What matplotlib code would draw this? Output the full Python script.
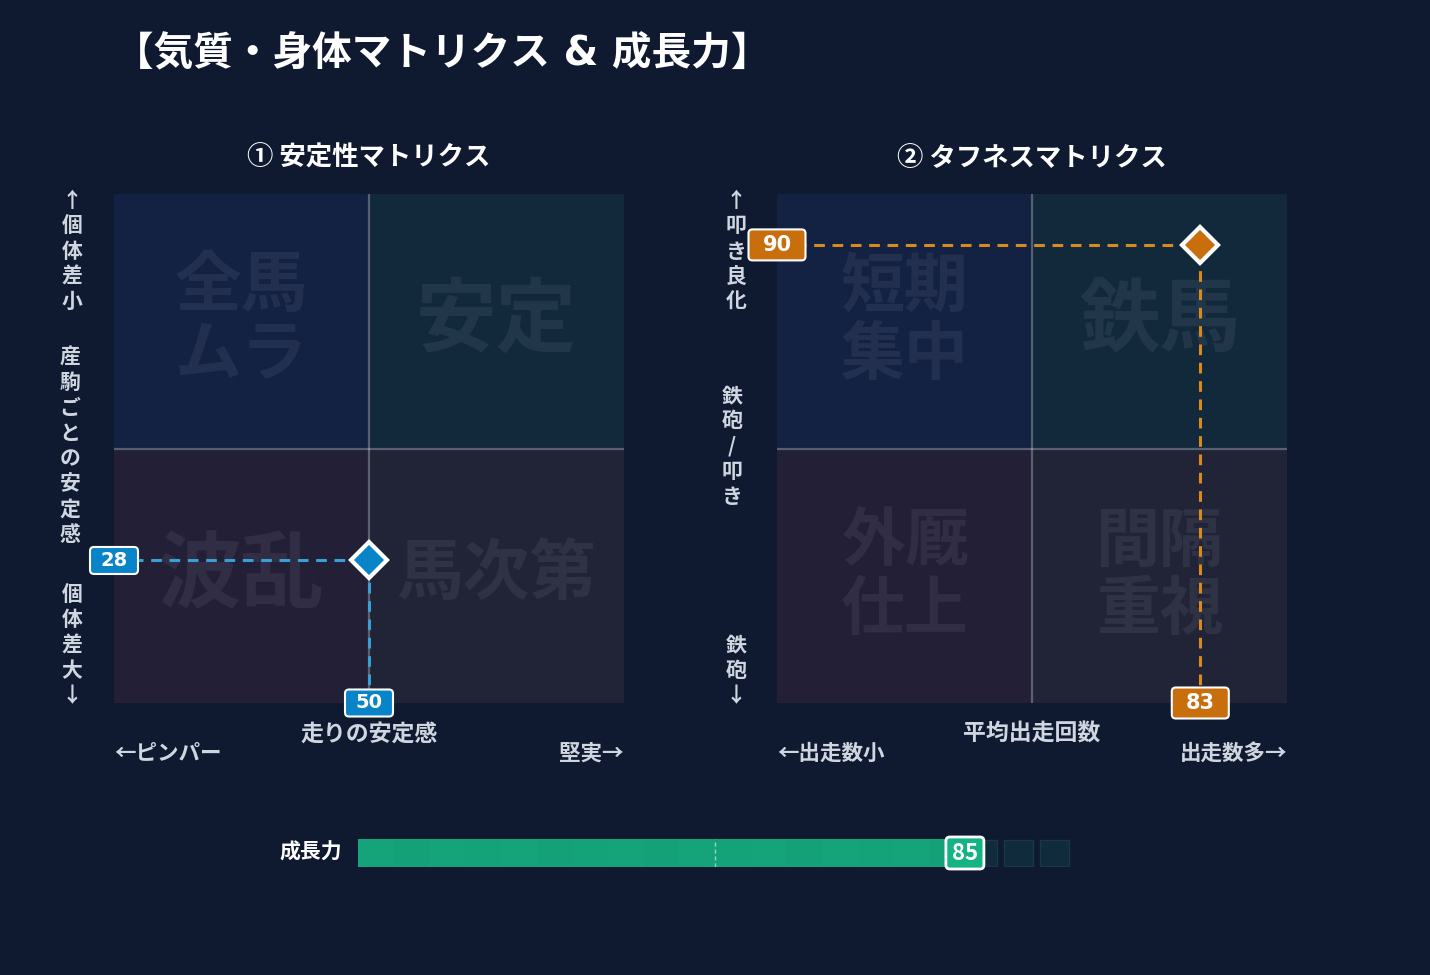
import numpy as np
import matplotlib
matplotlib.use("Agg")
import matplotlib.pyplot as plt
from matplotlib.patches import Rectangle, FancyBboxPatch
from matplotlib.transforms import IdentityTransform

plt.rcParams['font.family'] = ['Noto Sans CJK JP', 'DejaVu Sans']

# --- data ---
title = "【気質・身体マトリクス & 成長力】"
panel_titles = ["① 安定性マトリクス", "② タフネスマトリクス"]

# quadrant labels: top-left, top-right, bottom-left, bottom-right
stab_quads = ["全馬\nムラ", "安定", "波乱", "馬次第"]
tough_quads = ["短期\n集中", "鉄馬", "外厩\n仕上", "間隔\n重視"]

stab_x, stab_y = 50, 28
tough_x, tough_y = 83, 90
growth = 85

stab_xlabel = "走りの安定感"
stab_xends = ["←ピンパー", "堅実→"]
stab_ylabels = ["↑個体差小", "産駒ごとの安定感", "個体差大↓"]
tough_xlabel = "平均出走回数"
tough_xends = ["←出走数小", "出走数多→"]
tough_ylabels = ["↑叩き良化", "鉄砲/叩き", "鉄砲↓"]
growth_label = "成長力"

# --- style ---
BG = "#0f1a31"
QUAD_COLORS = ["#132142", "#12283b", "#221f37", "#212437"]
TXT = "#cfd6e0"
BLUE = "#0a84c8"
BLUE_LINE = "#3a9fd6"
ORANGE = "#c96e0c"
ORANGE_LINE = "#d98a1e"
GREEN = "#15a47a"
GREEN_LBL = "#13b383"

W, H = 1430, 975
fig = plt.figure(figsize=(W / 100, H / 100), dpi=100, facecolor=BG)


def px_axes(x0, y0, x1, y1):
    return fig.add_axes([x0 / W, 1 - y1 / H, (x1 - x0) / W, (y1 - y0) / H])


def fig_text(x, y, s, **kw):
    fig.text(x / W, 1 - y / H, s, **kw)


def value_tag(ax, x, y, s, color, w, h, fs, weight="bold", family="DejaVu Sans", lw=1.5):
    # fixed pixel-size rounded tag centred on a data point
    cx, cy = ax.transData.transform((x, y))
    fig.add_artist(FancyBboxPatch((cx - w / 2, cy - h / 2), w, h,
                                  boxstyle="round,pad=0,rounding_size=4",
                                  fc=color, ec="white", lw=lw,
                                  transform=IdentityTransform(), zorder=6))
    fig.text(cx / W, cy / H, s, ha="center", va="center", fontsize=fs, fontweight=weight,
             family=family, color="white", zorder=7)


def matrix(ax, quads, px, py, mcol, lcol, sizes, tag_wh, tag_fs):
    ax.set_xlim(0, 100)
    ax.set_ylim(0, 100)
    ax.axis("off")
    spots = [(0, 50), (50, 50), (0, 0), (50, 0)]
    for (x0, y0), c in zip(spots, QUAD_COLORS):
        ax.add_patch(Rectangle((x0, y0), 50, 50, facecolor=c, edgecolor="none", zorder=0))
    for (x0, y0), lab, fs in zip(spots, quads, sizes):
        ax.text(x0 + 25, y0 + 25, lab, ha="center", va="center", fontsize=fs,
                fontweight="bold", color="white", alpha=0.065, linespacing=1.05, zorder=1)
    ax.axvline(50, color="white", alpha=0.28, lw=1.6, zorder=2)
    ax.axhline(50, color="white", alpha=0.28, lw=1.6, zorder=2)
    ax.plot([0, px], [py, py], color=lcol, lw=2.2, dashes=(3.5, 2.5), zorder=3)
    ax.plot([px, px], [0, py], color=lcol, lw=2.2, dashes=(3.5, 2.5), zorder=3)
    ax.plot([px], [py], marker="D", ms=18, mfc=mcol, mec="white", mew=3, zorder=5,
            clip_on=False)
    w, h = tag_wh
    value_tag(ax, 0, py, str(py), mcol, w, h, tag_fs)
    value_tag(ax, px, 0, str(px), mcol, w, h, tag_fs)


ax1 = px_axes(114, 194, 624, 703)
matrix(ax1, stab_quads, stab_x, stab_y, BLUE, BLUE_LINE, [48, 58, 60, 48], (48, 27), 14)
ax2 = px_axes(777, 194, 1287, 703)
matrix(ax2, tough_quads, tough_x, tough_y, ORANGE, ORANGE_LINE, [46, 58, 46, 46], (57, 31), 15)

# titles
fig_text(114, 54, title, fontsize=28.5, fontweight="bold", color="white", va="center",
         family=["DejaVu Sans", "Noto Sans CJK JP"])
fig_text(369, 158, panel_titles[0], fontsize=19, fontweight="bold", color="white",
         ha="center", va="center")
fig_text(1032, 158, panel_titles[1], fontsize=19, fontweight="bold", color="white",
         ha="center", va="center")

# x labels
for cx, x0, x1, lab, ends in [(369, 114, 624, stab_xlabel, stab_xends),
                              (1032, 777, 1287, tough_xlabel, tough_xends)]:
    fig_text(cx, 734, lab, fontsize=16.5, fontweight="bold", color=TXT, ha="center", va="center")
    fig_text(x0, 753, ends[0], fontsize=15.5, fontweight="bold", color=TXT, ha="left", va="center")
    fig_text(x1, 753, ends[1], fontsize=15.5, fontweight="bold", color=TXT, ha="right", va="center")

# vertical y labels
for xs, labs in [((72, 70, 72), stab_ylabels), ((736, 732, 736), tough_ylabels)]:
    kw = dict(fontsize=15, fontweight="bold", color=TXT, ha="center", linespacing=1.25)
    fig_text(xs[0], 190, "\n".join(labs[0]), va="top", **kw)
    fig_text(xs[1], 446, "\n".join(labs[1]), va="center", **kw)
    fig_text(xs[2], 706, "\n".join(labs[2]), va="bottom", **kw)

# growth bar
axb = px_axes(358, 839, 1072, 867)
axb.set_xlim(0, 100)
axb.set_ylim(0, 1)
axb.axis("off")
n_cells = 20
cell_w = 100 / n_cells
shades = [0.0, 0.015, 0.0, 0.01, 0.0, 0.015, 0.005, 0.0, 0.015, 0.0,
          0.01, 0.0, 0.015, 0.0, 0.01, 0.0, 0.015, 0.0, 0.0, 0.0]
for i in range(n_cells):
    x0 = i * cell_w
    if x0 + cell_w <= growth + 1e-9:
        axb.add_patch(Rectangle((x0, 0), cell_w, 1, facecolor=GREEN, edgecolor="none"))
        axb.add_patch(Rectangle((x0, 0), cell_w, 1, facecolor="black", alpha=shades[i],
                                edgecolor="none"))
    else:
        axb.add_patch(Rectangle((x0 + 0.45, 0.03), cell_w - 0.9, 0.94, facecolor="#0f2b3c",
                                edgecolor="#163848", lw=1))
axb.axvline(50, color="white", alpha=0.55, lw=1, dashes=(3, 2))
value_tag(axb, growth, 0.5, str(growth), GREEN_LBL, 38, 32, 16,
          family=["Noto Sans CJK JP", "DejaVu Sans"], lw=2)
fig_text(342, 852, growth_label, fontsize=15, fontweight="bold", color="white",
         ha="right", va="center")

fig.savefig("out.png", dpi=100, facecolor=BG)
